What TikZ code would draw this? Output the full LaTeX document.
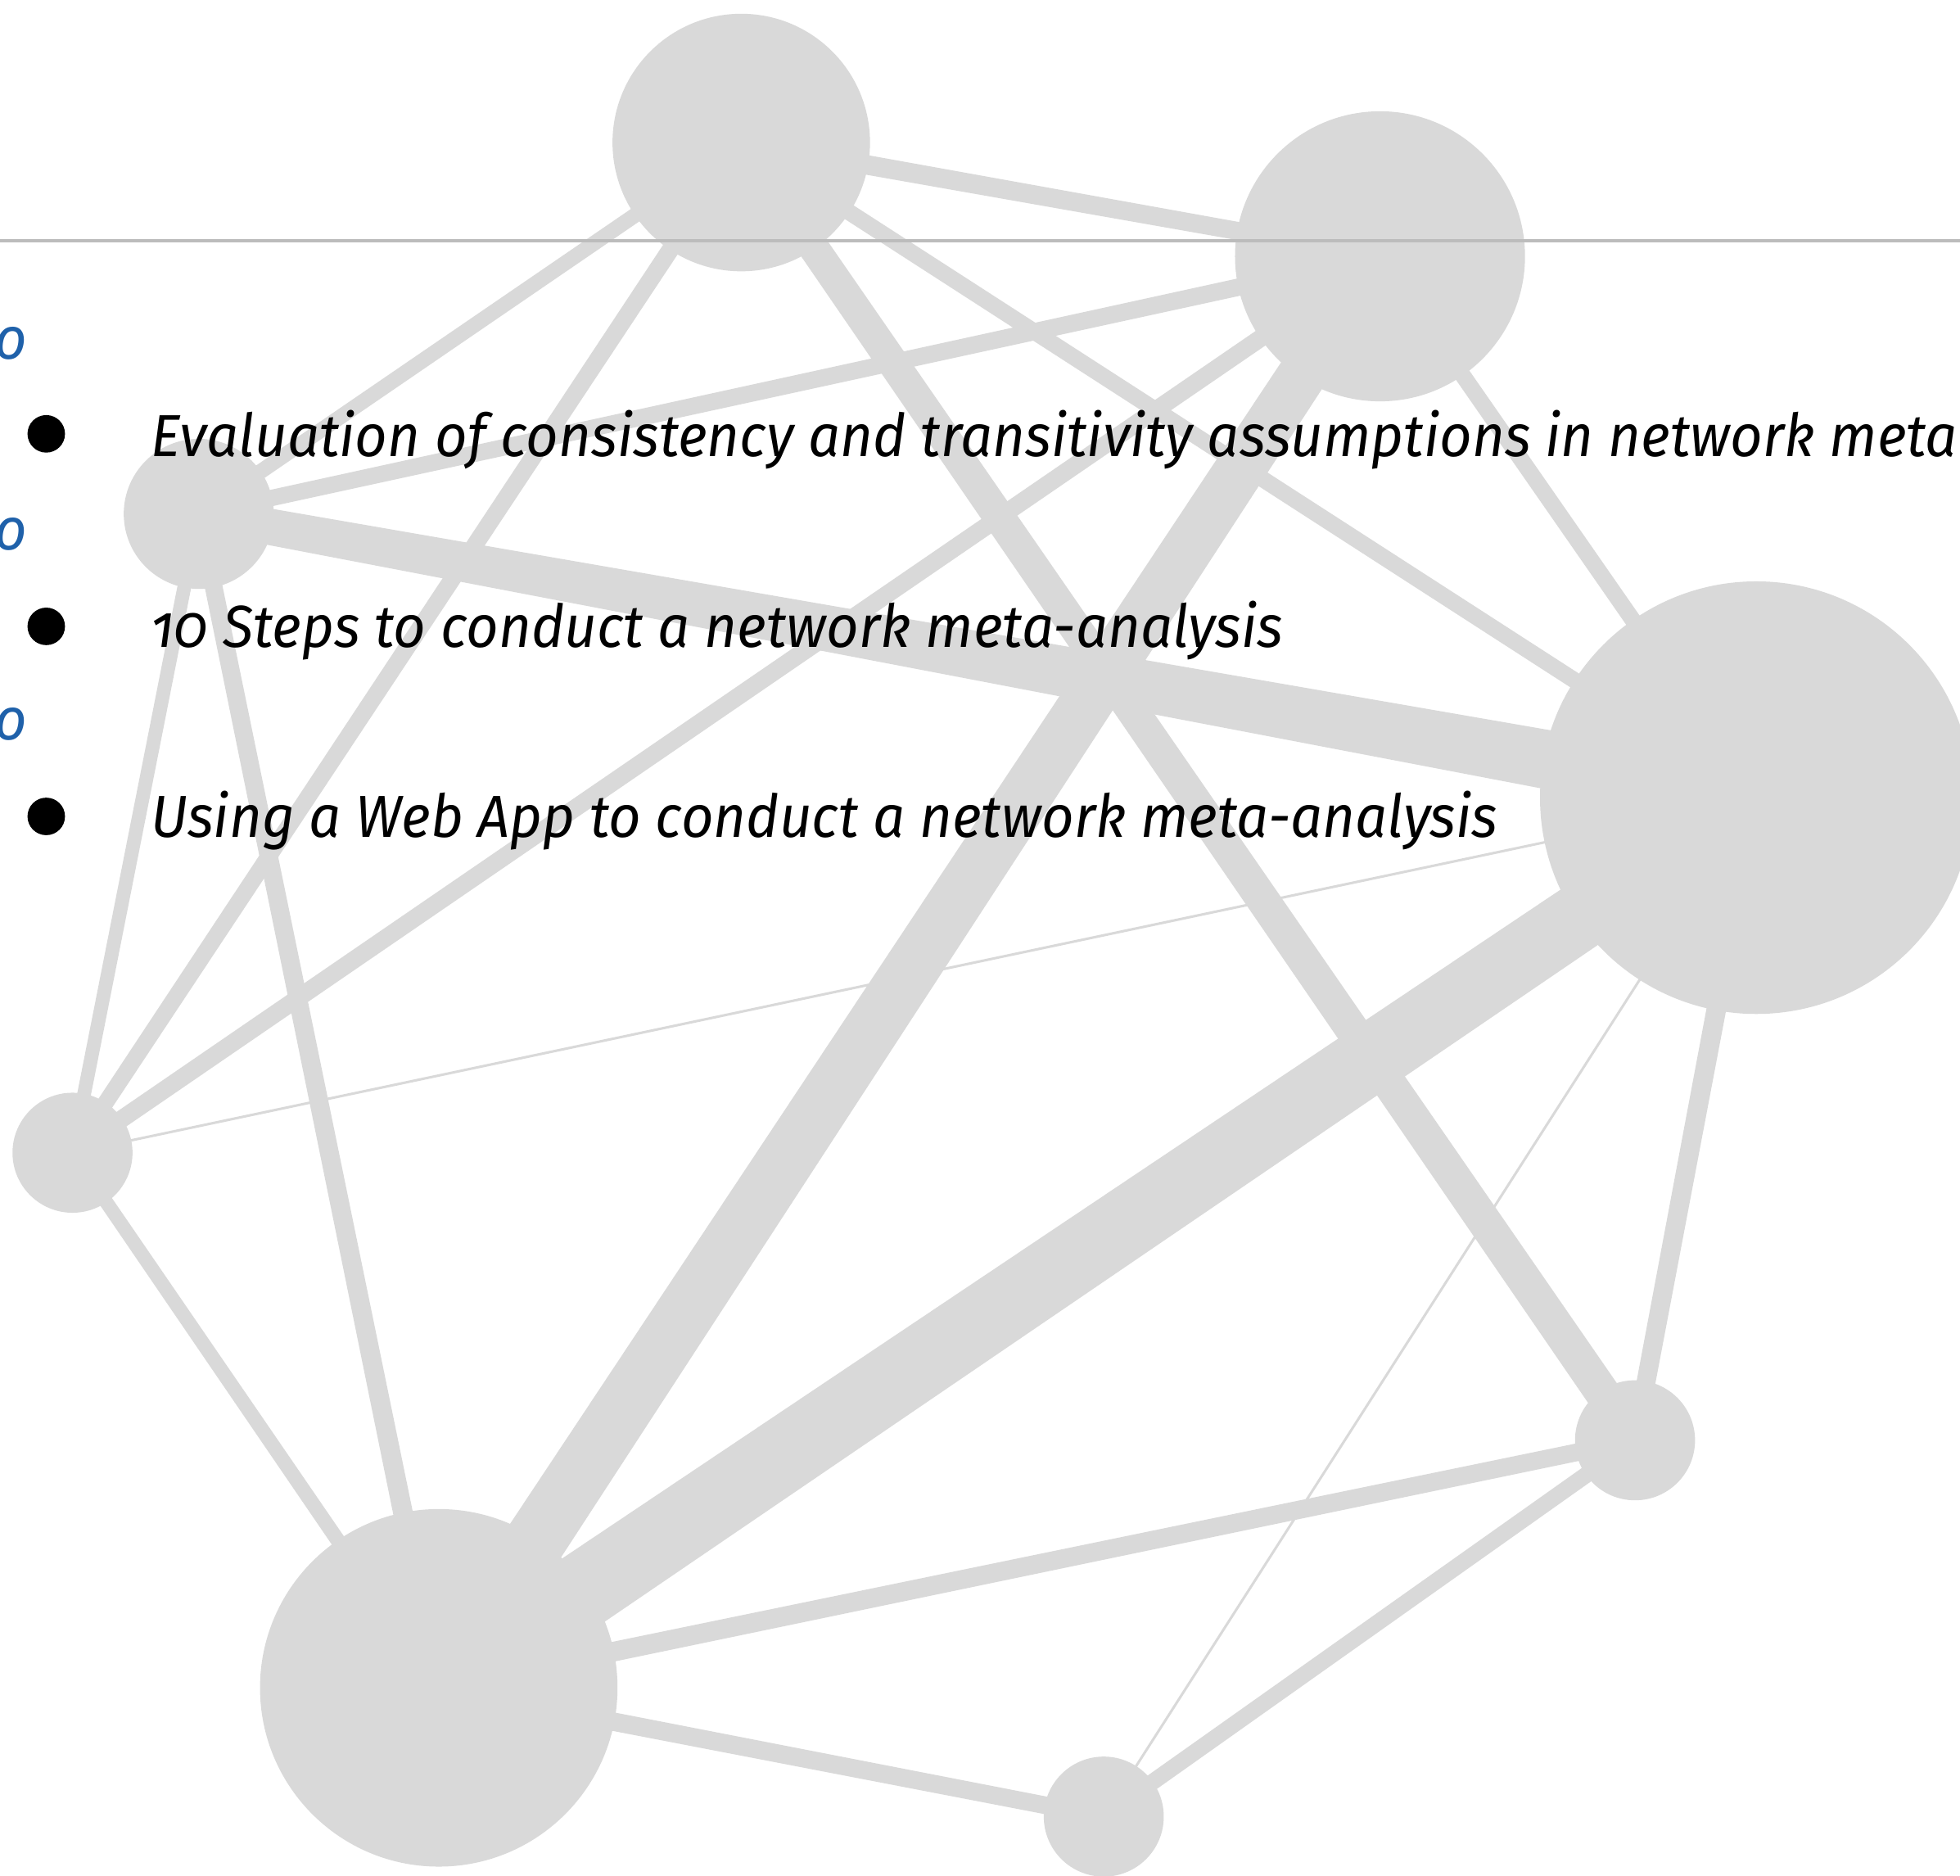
\documentclass[tikz,border=0pt]{standalone}
\usepackage{fontspec}
\setmainfont{Fira Sans}[Numbers=OldStyle, FakeStretch=0.95]
\usetikzlibrary{calc}

\definecolor{netgray}{RGB}{217,217,217}
\definecolor{rulegray}{RGB}{188,188,188}
\definecolor{subblue}{RGB}{31,97,170}

% tapered band between two treatment nodes, widths at each end
\newcommand{\band}[4]{%
  \fill[netgray] ($(#1.center)!#3*0.005cm!90:(#2.center)$) -- ($(#2.center)!#4*0.005cm!-90:(#1.center)$)
    -- ($(#2.center)!#4*0.005cm!90:(#1.center)$) -- ($(#1.center)!#3*0.005cm!-90:(#2.center)$) -- cycle;}

\begin{document}
\begin{tikzpicture}[trt/.style={circle, fill=netgray, inner sep=0pt},
    item/.style={font=\fontsize{13.5}{16}\selectfont\itshape, inner sep=0pt, anchor=base west},
    sub/.style={font=\fontsize{13.5}{16}\selectfont\itshape, text=subblue, inner sep=0pt, anchor=base}]
    \useasboundingbox (0,0) rectangle (15.68,-15);
    % network in the background
    \node[trt, minimum size=2.06cm] (trt1) at (5.93,-1.14) {};
    \node[trt, minimum size=2.32cm] (trt2) at (11.04,-2.05) {};
    \node[trt, minimum size=1.20cm] (trt3) at (1.59,-4.11) {};
    \node[trt, minimum size=0.96cm] (trt4) at (0.58,-9.22) {};
    \node[trt, minimum size=2.86cm] (trt5) at (3.51,-13.50) {};
    \node[trt, minimum size=0.96cm] (trt6) at (8.83,-14.53) {};
    \node[trt, minimum size=0.96cm] (trt7) at (13.08,-11.52) {};
    \node[trt, minimum size=3.46cm] (trt8) at (14.05,-6.38) {};
    \band{trt1}{trt2}{16}{14}
    \band{trt1}{trt3}{12}{12}
    \band{trt1}{trt4}{14}{13}
    \band{trt1}{trt7}{24}{28}
    \band{trt1}{trt8}{13}{13}
    \band{trt2}{trt3}{14}{13}
    \band{trt2}{trt4}{14}{14}
    \band{trt2}{trt5}{38}{50}
    \band{trt2}{trt8}{13}{13}
    \band{trt3}{trt4}{11}{11}
    \band{trt3}{trt5}{14}{16}
    \band{trt3}{trt8}{28}{50}
    \band{trt4}{trt5}{11}{12}
    \band{trt4}{trt8}{2}{2}
    \band{trt5}{trt6}{15}{14}
    \band{trt5}{trt7}{16}{14}
    \band{trt5}{trt8}{62}{52}
    \band{trt6}{trt7}{13}{13}
    \band{trt6}{trt8}{2}{2}
    \band{trt7}{trt8}{15}{16}
    % title rule
    \draw[rulegray, line width=0.75pt] (0,-1.925) -- (15.68,-1.925);
    % list
    \node[sub] (sub1) at (0.09,-2.875) {o};
    \node[sub] (sub2) at (0.09,-4.40) {o};
    \node[sub] (sub3) at (0.09,-5.92) {o};
    \fill (0.37,-3.47) circle (0.15);
    \fill (0.37,-5.01) circle (0.15);
    \fill (0.37,-6.53) circle (0.15);
    \node[item] (item1) at (1.20,-3.65) {Evaluation of consistency and transitivity assumptions in network meta};
    \node[item] (item2) at (1.20,-5.18) {10 Steps to conduct a network meta-analysis};
    \node[item] (item3) at (1.20,-6.70) {Using a Web App to conduct a network meta-analysis};
\end{tikzpicture}
\end{document}
